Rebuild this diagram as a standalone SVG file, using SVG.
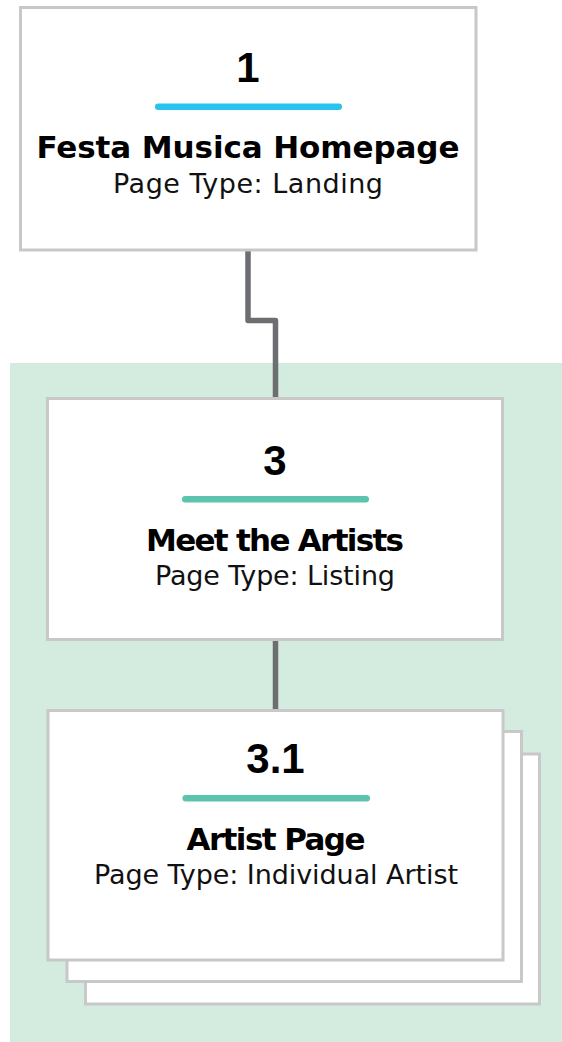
<svg xmlns="http://www.w3.org/2000/svg" width="562" height="1042" viewBox="0 0 562 1042">
  <style>
    .card { fill: #ffffff; stroke: #c8c8c8; stroke-width: 3; }
    .num { font-family: "Liberation Sans", Arial, sans-serif; font-weight: 700; font-size: 42px; fill: #000000; text-anchor: middle; }
    .title { font-family: "DejaVu Sans", sans-serif; font-weight: 700; font-size: 31px; fill: #000000; text-anchor: middle; }
    .sub { font-family: "DejaVu Sans", sans-serif; font-weight: 400; font-size: 27px; fill: #111111; text-anchor: middle; }
    .bar-blue { fill: #29c3ee; }
    .bar-teal { fill: #5cc3ad; }
    .link { fill: none; stroke: #6d6e71; stroke-width: 5.5; stroke-linejoin: round; }
  </style>

  <!-- section band behind the artists pages -->
  <rect id="section-artists" x="10" y="363" width="552" height="679" fill="#d3ecdf"/>

  <!-- connectors -->
  <g id="connectors">
    <path class="link" d="M248 250 V320.5 H275.5 V399"/>
    <path class="link" d="M275.5 639 V711"/>
  </g>

  <!-- page 1 -->
  <g id="node-1">
    <rect class="card" x="20.5" y="7.5" width="455.5" height="242.5"/>
    <text class="num" x="248" y="82">1</text>
    <rect class="bar-blue" x="155" y="103.5" width="187" height="6.5" rx="3.2"/>
    <text class="title" x="248" y="158" textLength="423" lengthAdjust="spacing">Festa Musica Homepage</text>
    <text class="sub" x="248" y="192.5" textLength="270" lengthAdjust="spacing">Page Type: Landing</text>
  </g>

  <!-- page 3 -->
  <g id="node-3">
    <rect class="card" x="47.5" y="398.5" width="455" height="241"/>
    <text class="num" x="275" y="475">3</text>
    <rect class="bar-teal" x="182" y="496" width="187" height="6.5" rx="3.2"/>
    <text class="title" x="275" y="551" textLength="258" lengthAdjust="spacing">Meet the Artists</text>
    <text class="sub" x="275" y="584.5" textLength="240" lengthAdjust="spacing">Page Type: Listing</text>
  </g>

  <!-- page 3.1: stacked cards for the repeating artist pages -->
  <g id="node-3-1">
    <rect class="card" x="85.5" y="754" width="454" height="250"/>
    <rect class="card" x="67" y="731.5" width="454.5" height="250"/>
    <rect class="card" x="48" y="710.5" width="455" height="249.5"/>
    <text class="num" x="275.5" y="773">3.1</text>
    <rect class="bar-teal" x="182.5" y="795" width="187.5" height="6.5" rx="3.2"/>
    <text class="title" x="276" y="850" textLength="179" lengthAdjust="spacing">Artist Page</text>
    <text class="sub" x="276" y="883.5" textLength="364" lengthAdjust="spacing">Page Type: Individual Artist</text>
  </g>
</svg>
